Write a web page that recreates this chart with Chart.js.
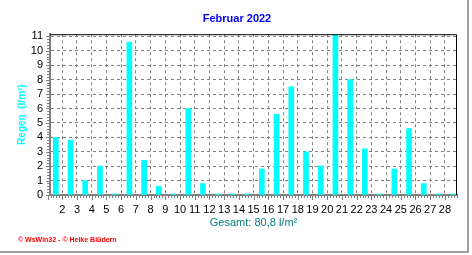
<!DOCTYPE html>
<html>
<head>
<meta charset="utf-8">
<script src="https://cdn.jsdelivr.net/npm/chart.js@4/dist/chart.umd.min.js"></script>
<style>
  body { margin: 0; background: #fff; }
  #rahmen { position: relative; width: 467px; height: 251px; border-right: 2px solid #a0a0a0; border-bottom: 2px solid #a0a0a0; }
  #copy { position: absolute; left: 18px; top: 236px; font: bold 7px "Liberation Sans", Arial, sans-serif; color: #ff0000; white-space: pre; }
</style>
</head>
<body>
<div id="rahmen">
  <canvas id="regen" width="467" height="251"></canvas>
  <div id="copy">© WsWin32 - © Heike Blüdern</div>
</div>
<script>
const titel = "Februar 2022";
const yTitel = "Regen  (l/m²)";
const summeText = "Gesamt: 80,8 l/m²";

const tage = [1, 2, 3, 4, 5, 6, 7, 8, 9, 10, 11, 12, 13, 14, 15, 16, 17, 18, 19, 20, 21, 22, 23, 24, 25, 26, 27, 28];
const regen = [4.0, 3.8, 1.0, 2.0, 0, 10.6, 2.4, 0.6, 0, 6.0, 0.8, 0, 0, 0, 1.8, 5.6, 7.5, 3.0, 2.0, 11.3, 8.0, 3.2, 0, 1.8, 4.6, 0.8, 0, 0];
const xLabels = ["2", "3", "4", "5", "6", "7", "8", "9", "10", "11", "12", "13", "14", "15", "16", "17", "18", "19", "20", "21", "22", "23", "24", "25", "26", "27", "28"];
const yLabels = [0, 1, 2, 3, 4, 5, 6, 7, 8, 9, 10, 11];

const schrift = '"Liberation Sans", Arial, sans-serif';
const grenze = 0.44; // Tagesgrenze rechts vom Balken

// Rahmen oben/rechts und kleine Teilstriche
const extras = {
  id: "extras",
  afterDraw(chart) {
    const ctx = chart.ctx;
    const a = chart.chartArea;
    const x = chart.scales.x;
    const y = chart.scales.y;
    ctx.save();
    ctx.strokeStyle = "#000";
    ctx.lineWidth = 1;
    ctx.beginPath();
    ctx.moveTo(a.left, a.top + 0.5);
    ctx.lineTo(a.right - 0.5, a.top + 0.5);
    ctx.lineTo(a.right - 0.5, a.bottom);
    ctx.stroke();

    ctx.strokeStyle = "#808080";
    ctx.beginPath();
    for (let v = 0; v <= y.max + 0.001; v += 0.2) {
      const p = Math.round(y.getPixelForValue(v)) + 0.5;
      const major = Math.abs(v - Math.round(v)) < 0.01;
      ctx.moveTo(a.left - 1, p);
      ctx.lineTo(a.left - (major ? 4 : 3), p);
    }
    let start = grenze;
    while (start - 0.2 > x.min) start -= 0.2;
    for (let v = start; v < x.max; v += 0.2) {
      const p = Math.round(x.getPixelForValue(v)) + 0.5;
      const major = Math.abs((v - grenze) - Math.round(v - grenze)) < 0.01;
      ctx.moveTo(p, a.bottom + 1);
      ctx.lineTo(p, a.bottom + (major ? 5 : 3));
    }
    ctx.stroke();
    ctx.restore();
  }
};

new Chart(document.getElementById("regen"), {
  type: "bar",
  data: {
    datasets: [{
      data: tage.map((t, i) => ({ x: t, y: regen[i] })),
      backgroundColor: "#00ffff",
      borderWidth: 0,
      barThickness: 5,
      minBarLength: 1
    }]
  },
  options: {
    responsive: false,
    animation: false,
    layout: { padding: { left: 17, right: 10, top: 0, bottom: 14 } },
    plugins: {
      legend: { display: false },
      tooltip: { enabled: false },
      title: {
        display: true,
        text: titel,
        color: "#0000ff",
        font: { family: schrift, size: 11, weight: "bold", lineHeight: 1.2 },
        padding: { top: 12, bottom: 9 }
      }
    },
    scales: {
      x: {
        type: "linear",
        min: 0.606,
        max: 28.26,
        offset: false,
        afterBuildTicks: (s) => { s.ticks = xLabels.map((l, i) => ({ value: tage[i] + grenze })); },
        afterFit: (s) => { s.height = 42; },
        ticks: {
          autoSkip: false,
          maxRotation: 0,
          padding: 8,
          color: "#000",
          font: { family: schrift, size: 11 },
          callback: (v, i) => xLabels[i]
        },
        grid: { offset: false, color: "#808080", drawTicks: false },
        border: { color: "#808080", width: 2, dash: [3, 3] },
        title: {
          display: true,
          text: summeText,
          color: "#008080",
          font: { family: schrift, size: 11, lineHeight: 1.2 },
          padding: { top: 0, bottom: 7 }
        }
      },
      y: {
        min: 0,
        max: 11.15,
        afterBuildTicks: (s) => { s.ticks = yLabels.map(v => ({ value: v })); },
        afterFit: (s) => { s.width = 33; },
        ticks: {
          autoSkip: false,
          padding: 7,
          color: "#000",
          font: { family: schrift, size: 11 }
        },
        grid: { color: "#808080", drawTicks: false },
        border: { color: "#808080", width: 2, dash: [3, 3] },
        title: {
          display: true,
          text: yTitel,
          color: "#00ffff",
          font: { family: schrift, size: 10, weight: "bold", lineHeight: 1 },
          padding: { top: 0, bottom: 0 }
        }
      }
    }
  },
  plugins: [extras]
});
</script>
</body>
</html>
